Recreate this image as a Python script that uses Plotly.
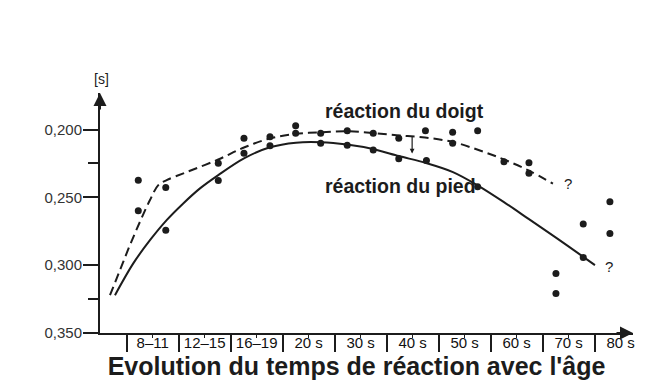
import plotly.graph_objects as go

# Category labels (x axis), centred on integer positions 0..9
age_labels = ["8–11", "12–15", "16–19", "20 s", "30 s", "40 s", "50 s", "60 s", "70 s", "80 s"]
age_pos = list(range(len(age_labels)))
boundaries = [i - 0.5 for i in range(len(age_labels))]

# Y ticks
y_ticks = [0.200, 0.250, 0.300, 0.350]
y_ticktext = ["0,200", "0,250", "0,300", "0,350"]
y_minor = [0.225, 0.325]

# Measured points (x in category units, y in seconds)
dots_x = [-0.277, -0.277, 0.252, 0.252, 1.262, 1.262, 1.756, 1.756, 2.256, 2.256,
          2.75, 2.75, 3.231, 3.231, 3.742, 3.742, 4.242, 4.242, 4.733, 4.733,
          5.246, 5.265, 5.769, 5.769, 6.25, 6.25, 6.756, 7.237, 7.237,
          7.756, 7.756, 8.281, 8.281, 8.794, 8.794]
dots_y = [0.2375, 0.2599, 0.2428, 0.2742, 0.2249, 0.2376, 0.2064, 0.2176, 0.2053, 0.2120,
          0.1972, 0.2028, 0.2028, 0.2102, 0.2009, 0.2117, 0.2028, 0.2151, 0.2064, 0.2216,
          0.2009, 0.2229, 0.2021, 0.2102, 0.2009, 0.2422, 0.2238, 0.2245, 0.2323,
          0.3061, 0.3209, 0.2697, 0.2943, 0.2533, 0.2766]

# Finger reaction curve (dashed)
doigt_x = [-0.821, -0.629, -0.437, -0.244, -0.052, 0.108, 0.269, 0.654, 1.262, 1.756,
           2.256, 2.756, 3.237, 3.737, 4.237, 4.737, 5.237, 5.775, 6.294, 6.756, 7.237, 7.698]
doigt_y = [0.3221, 0.3037, 0.2852, 0.2680, 0.2520, 0.2410, 0.2373, 0.2314, 0.2221, 0.2133,
           0.2066, 0.2033, 0.2020, 0.2013, 0.2026, 0.2044, 0.2059, 0.2092, 0.2155, 0.2221,
           0.2303, 0.2399]

# Foot reaction curve (solid)
pied_x = [-0.725, -0.373, -0.052, 0.269, 0.588, 0.910, 1.262, 1.756, 2.256, 2.756,
          3.237, 3.737, 4.237, 4.737, 5.256, 5.775, 6.256, 6.756, 7.237, 7.756, 8.275, 8.506]
pied_y = [0.3221, 0.2987, 0.2816, 0.2668, 0.2545, 0.2434, 0.2336, 0.2213, 0.2131, 0.2097,
          0.2094, 0.2111, 0.2144, 0.2196, 0.2247, 0.2314, 0.2413, 0.2535, 0.2661, 0.2797,
          0.2937, 0.3000]

INK = "#1c1c1c"
FONT = "Liberation Sans, Arial, sans-serif"

fig = go.Figure()
fig.add_trace(go.Scatter(x=doigt_x, y=doigt_y, mode="lines", line_shape="spline",
                         line=dict(color=INK, width=2, dash="9px,5px", smoothing=1.0),
                         hoverinfo="skip"))
fig.add_trace(go.Scatter(x=pied_x, y=pied_y, mode="lines", line_shape="spline",
                         line=dict(color=INK, width=2, smoothing=0.9), hoverinfo="skip"))
fig.add_trace(go.Scatter(x=dots_x, y=dots_y, mode="markers",
                         marker=dict(color=INK, size=7), hoverinfo="skip"))

annotations = [
    dict(text="réaction du doigt", x=3.27, y=0.1864, xref="x", yref="y", xanchor="left",
         yanchor="middle", showarrow=False, font=dict(size=19.5, color=INK, family=FONT, weight="bold")),
    dict(text="réaction du pied", x=3.27, y=0.2420, xref="x", yref="y", xanchor="left",
         yanchor="middle", showarrow=False, font=dict(size=19.5, color=INK, family=FONT, weight="bold")),
    dict(text="?", x=7.88, y=0.2400, xref="x", yref="y", xanchor="left", yanchor="middle",
         showarrow=False, font=dict(size=15, color=INK, family=FONT)),
    dict(text="?", x=8.66, y=0.3013, xref="x", yref="y", xanchor="left", yanchor="middle",
         showarrow=False, font=dict(size=15, color=INK, family=FONT)),
    dict(text="[s]", x=-0.98, y=1, xref="x", yref="paper", xanchor="center", yanchor="middle",
         yshift=14, showarrow=False, font=dict(size=14, color=INK, family=FONT)),
    # small arrow between curves
    dict(text="", x=4.99, y=0.2177, ax=4.99, ay=0.2045, xref="x", yref="y", axref="x", ayref="y",
         showarrow=True, arrowhead=2, arrowsize=0.8, arrowwidth=1.2, arrowcolor=INK),
    # axis arrowheads
    dict(text="", x=0, y=1, xref="paper", yref="paper", ax=0, ay=18, showarrow=True,
         arrowhead=2, arrowsize=1.3, arrowwidth=2, arrowcolor=INK),
    dict(text="", x=1, y=0, xref="paper", yref="paper", ax=-18, ay=0, showarrow=True,
         arrowhead=2, arrowsize=1.3, arrowwidth=2, arrowcolor=INK),
]

fig.update_layout(
    width=653, height=387,
    margin=dict(l=100, r=20, t=93, b=54, autoexpand=False),
    paper_bgcolor="white", plot_bgcolor="white",
    showlegend=False,
    font=dict(family=FONT, color=INK),
    title=dict(text="<b>Evolution du temps de réaction avec l'âge</b>",
               x=0.546, xanchor="center", y=0.054, yanchor="middle",
               font=dict(size=25, color=INK, family=FONT)),
    annotations=annotations,
)
fig.update_xaxes(
    range=[-1.013, 9.238], showgrid=False, zeroline=False, automargin=False,
    showline=True, linecolor=INK, linewidth=2,
    tickmode="array", tickvals=age_pos, ticktext=age_labels,
    ticks="outside", ticklen=3, tickwidth=1, tickcolor=INK,
    ticklabelstandoff=-8,
    tickfont=dict(size=15, color="#111111", family=FONT),
    minor=dict(tickmode="array", tickvals=boundaries, ticks="outside", ticklen=17,
               tickwidth=1.5, tickcolor=INK, showgrid=False),
)
fig.update_yaxes(
    range=[0.35, 0.1731], showgrid=False, zeroline=False, automargin=False,
    showline=True, linecolor=INK, linewidth=2,
    tickmode="array", tickvals=y_ticks, ticktext=y_ticktext,
    ticks="outside", ticklen=15, tickwidth=1.5, tickcolor=INK,
    ticklabelstandoff=-2,
    tickfont=dict(size=15, color="#333333", family=FONT),
    minor=dict(tickmode="array", tickvals=y_minor, ticks="outside", ticklen=10,
               tickwidth=1.5, tickcolor=INK, showgrid=False),
)

fig.write_html("out.html", config={"displayModeBar": False},
               post_script="document.body.style.margin='0px';document.body.style.overflow='hidden';")
